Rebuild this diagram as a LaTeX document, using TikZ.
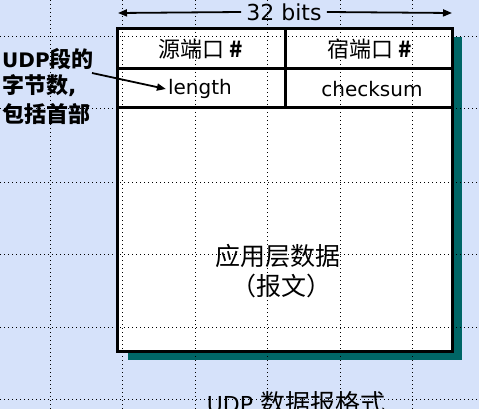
\documentclass[tikz,border=0pt]{standalone}
\usepackage{fontspec}
\setmainfont{DejaVu Sans}
\newfontfamily\cjk{Noto Sans CJK SC}
\usetikzlibrary{arrows.meta}
\definecolor{bgblue}{RGB}{214,226,250}
\definecolor{shadowc}{RGB}{0,102,102}
\tikzset{
  griddot/.style={line width=1pt,dash pattern=on 1pt off 3pt,black},
  frame/.style={line width=3pt,black},
  arr/.style={line width=1.8pt,-{Triangle[length=9pt,width=7pt]}},
  cell/.style={inner sep=0pt,anchor=center},
}
\begin{document}
\begin{tikzpicture}[x=1pt,y=-1pt]
\fill[bgblue] (0,0) rectangle (479,409);
\useasboundingbox (0,0) rectangle (479,409);
% shadow and box fill
\fill[shadowc] (128,37) rectangle (462,360);
\fill[white] (117,29) rectangle (452,351);
% dotted grid
\foreach \x in {50,122.5,195,267.5,340,412.5} \draw[griddot] (\x,0) -- (\x,409);
\foreach \y in {37,109,182,254,327,399} \draw[griddot] (0,\y) -- (479,\y);
% frame
\draw[frame] (117,29) rectangle (452,351);
\draw[frame] (117,69) -- (452,69);
\draw[frame] (117,108) -- (452,108);
\draw[frame] (285,29) -- (285,108);
% cell texts
\node[cell] (src) at (201,49) {\fontsize{22}{26}\selectfont\cjk 源端口 \textbf{\#}};
\node[cell] (dst) at (370,49) {\fontsize{22}{26}\selectfont\cjk 宿端口 \textbf{\#}};
\node[cell,inner sep=2pt] (len) at (200,89) {\fontsize{20}{24}\selectfont length};
\node[cell] (chk) at (372,89) {\fontsize{20}{24}\selectfont checksum};
\node[cell] (data) at (278,256) {\fontsize{25}{30}\selectfont\cjk 应用层数据};
\node[cell] (msg) at (281,286) {\fontsize{25}{30}\selectfont\cjk （报文）};
% 32 bits
\node[cell,inner sep=5pt] (bits) at (284,12) {\fontsize{22}{26}\selectfont 32 bits};
\coordinate (bl) at (118,13);
\coordinate (br) at (452,13);
\draw[arr] (bits.west) -- (bl);
\draw[arr] (bits.east) -- (br);
% left label
\node[anchor=west,inner sep=0pt] (lab1) at (2,59) {\fontsize{22}{26}\selectfont\bfseries\fontsize{20}{24}\selectfont UDP\fontsize{22}{26}\selectfont\cjk 段的};
\node[anchor=west,inner sep=0pt] (lab2) at (2,86) {\fontsize{22}{26}\selectfont\cjk\bfseries 字节数\normalfont\bfseries,};
\node[anchor=west,inner sep=0pt] (lab3) at (2,114) {\fontsize{22}{26}\selectfont\cjk\bfseries 包括首部};
\coordinate (as) at (92,73);
\draw[arr] (as) -- (len.west);
% caption
\node[cell] (cap) at (296,403) {\fontsize{22}{26}\selectfont UDP \fontsize{25}{30}\selectfont\cjk 数据报格式};
\end{tikzpicture}
\end{document}
